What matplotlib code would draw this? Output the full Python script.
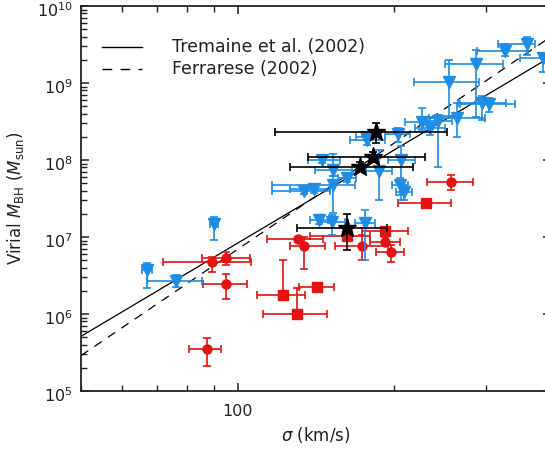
import numpy as np
import matplotlib
matplotlib.use("Agg")
import matplotlib.pyplot as plt
import matplotlib.transforms as mtransforms
from matplotlib.ticker import LogLocator, FixedLocator, FixedFormatter, NullFormatter

# ---- data: sigma (km/s) with lower/upper bounds, log10 Mbh with lower/upper bounds ----
# blue triangles
blue_sig    = [326.6, 360.1, 386.5, 287.3, 254.9, 295.0, 304.3, 264.1, 226.2, 234.3, 242.7, 203.4,
               177.3, 176.5, 145.3, 152.5, 206.1, 186.9, 162.3, 152.5, 134.1, 140.2, 205.2, 208.9,
               143.3, 151.8, 175.7, 90.0, 66.9, 76.1]
blue_sig_lo = [288.6, 316.7, 349.1, 250.4, 218.3, 265.3, 267.6, 233.3, 209.8, 219.3, 224.2, 192.0,
               164.4, 168.8, 136.5, 140.8, 194.5, 176.5, 155.9, 116.4, 116.4, 126.1, 198.0, 201.6,
               137.7, 144.0, 168.1, 88.5, 65.5, 66.9]
blue_sig_hi = [361.7, 373.1, 416.8, 323.7, 291.1, 328.1, 341.4, 298.9, 239.5, 250.4, 258.3, 214.5,
               192.0, 184.2, 157.3, 165.9, 219.3, 198.0, 168.8, 168.1, 150.5, 150.5, 212.6, 216.4,
               149.2, 160.8, 183.7, 91.6, 68.4, 85.4]
blue_logm    = [9.42, 9.51, 9.32, 9.25, 9.01, 8.74, 8.73, 8.55, 8.49, 8.42, 8.51, 8.34,
                8.26, 8.30, 8.00, 7.87, 8.00, 7.86, 7.77, 7.68, 7.60, 7.62, 7.68, 7.58,
                7.22, 7.19, 7.18, 7.17, 6.57, 6.43]
blue_logm_lo = [9.35, 9.36, 9.14, 8.56, 8.57, 8.52, 8.62, 8.30, 8.39, 8.33, 7.91, 8.23,
                8.20, 8.26, 7.96, 7.79, 7.48, 7.48, 7.71, 7.31, 7.56, 7.57, 7.55, 7.48,
                7.17, 7.03, 6.70, 6.96, 6.34, 6.35]
blue_logm_hi = [9.51, 9.60, 9.39, 9.43, 9.30, 8.83, 8.81, 8.74, 8.68, 8.56, 8.58, 8.42,
                8.34, 8.35, 8.04, 8.08, 8.18, 8.13, 7.82, 7.79, 7.64, 7.66, 7.77, 7.66,
                7.27, 7.29, 7.35, 7.26, 6.66, 6.51]

# black stars
star_sig    = [184.9, 182.3, 171.9, 162.2]
star_sig_lo = [117.9, 136.5, 126.1, 130.0]
star_sig_hi = [252.6, 229.2, 217.4, 193.7]
star_logm    = [8.37, 8.04, 7.91, 7.12]
star_logm_lo = [8.22, 7.97, 7.86, 6.83]
star_logm_hi = [8.48, 8.10, 7.97, 7.30]

# red circles
circ_sig    = [257.2, 130.6, 134.1, 173.2, 192.4, 197.1, 89.1, 95.2, 95.2, 87.2]
circ_sig_lo = [230.9, 113.7, 126.1, 153.8, 179.4, 184.9, 71.9, 85.3, 85.9, 80.7]
circ_sig_hi = [283.1, 146.1, 147.2, 194.8, 205.2, 208.9, 106.1, 105.6, 104.1, 92.9]
circ_logm    = [7.71, 6.97, 6.88, 6.88, 6.94, 6.81, 6.67, 6.73, 6.39, 5.54]
circ_logm_lo = [7.61, 6.94, 6.59, 6.70, 6.89, 6.67, 6.55, 6.64, 6.20, 5.32]
circ_logm_hi = [7.81, 7.00, 7.00, 7.03, 7.00, 6.89, 6.74, 6.81, 6.52, 5.69]

# red squares
sq_sig    = [229.9, 192.0, 162.2, 122.4, 142.1, 129.9]
sq_sig_lo = [203.5, 173.2, 137.7, 109.1, 131.4, 112.0]
sq_sig_hi = [257.2, 212.3, 180.0, 134.7, 153.2, 148.3]
sq_logm    = [7.44, 7.08, 7.01, 6.25, 6.35, 6.00]
sq_logm_lo = [7.41, 7.05, 6.98, 6.22, 6.32, 5.97]
sq_logm_hi = [7.47, 7.11, 7.04, 6.70, 6.38, 6.34]

# relations (end points)
fit_sig = [50.0, 400.0]
tremaine_logm = [5.71, 9.34]
ferrarese_logm = [5.46, 9.60]

xtick_vals = [100]
xtick_labels = ["100"]
ytick_vals = [1e5, 1e6, 1e7, 1e8, 1e9, 1e10]
ytick_labels = [r"$10^{5}$", r"$10^{6}$", r"$10^{7}$", r"$10^{8}$", r"$10^{9}$", r"$10^{10}$"]

BLUE = "#1f8ce6"
RED = "#e41212"


def eb(ax, s, slo, shi, lm, lmlo, lmhi, color, marker, ms, z):
    s = np.array(s); slo = np.array(slo); shi = np.array(shi)
    m = 10 ** np.array(lm); mlo = 10 ** np.array(lmlo); mhi = 10 ** np.array(lmhi)
    ax.errorbar(s, m, xerr=[s - slo, shi - s], yerr=[m - mlo, mhi - m],
                fmt=marker, color=color, ms=ms, mec=color, mfc=color,
                elinewidth=1.2, capsize=2.8, capthick=1.2, zorder=z)


fig = plt.figure(figsize=(5.45, 4.49), dpi=100)
ax = fig.add_axes([81 / 545, 58 / 449, 469.8 / 545, 385 / 449])
ax.set_xscale("log")
ax.set_yscale("log")
ax.set_xlim(50, 400)
ax.set_ylim(1e5, 1e10)

ax.plot(fit_sig, 10 ** np.array(tremaine_logm), color="black", lw=0.9, zorder=2)
ax.plot(fit_sig, 10 ** np.array(ferrarese_logm), color="black", lw=0.9, dashes=(7, 6), zorder=2)

eb(ax, circ_sig, circ_sig_lo, circ_sig_hi, circ_logm, circ_logm_lo, circ_logm_hi, RED, "o", 6.5, 3)
eb(ax, sq_sig, sq_sig_lo, sq_sig_hi, sq_logm, sq_logm_lo, sq_logm_hi, RED, "s", 6.5, 3)
eb(ax, blue_sig, blue_sig_lo, blue_sig_hi, blue_logm, blue_logm_lo, blue_logm_hi, BLUE, "v", 8.5, 4)
eb(ax, star_sig, star_sig_lo, star_sig_hi, star_logm, star_logm_lo, star_logm_hi, "black", "*", 14, 5)

# legend drawn by hand (no frame)
ax.plot([0.044, 0.129], [0.894, 0.894], color="black", lw=1, transform=ax.transAxes)
ax.plot([0.044, 0.129], [0.836, 0.836], color="black", lw=1, dashes=(7, 6), transform=ax.transAxes)
ax.text(0.194, 0.894, "Tremaine et al. (2002)", transform=ax.transAxes, va="center", ha="left",
        fontsize=12.5, color="#222222")
ax.text(0.194, 0.836, "Ferrarese (2002)", transform=ax.transAxes, va="center", ha="left",
        fontsize=12.5, color="#222222")

ax.xaxis.set_major_locator(FixedLocator(xtick_vals))
ax.xaxis.set_major_formatter(FixedFormatter(xtick_labels))
ax.xaxis.set_minor_locator(LogLocator(base=10, subs=np.arange(2, 10)))
ax.xaxis.set_minor_formatter(NullFormatter())
ax.yaxis.set_major_locator(FixedLocator(ytick_vals))
ax.yaxis.set_major_formatter(FixedFormatter(ytick_labels))
ax.yaxis.set_minor_locator(LogLocator(base=10, subs=np.arange(2, 10)))
ax.yaxis.set_minor_formatter(NullFormatter())

ax.tick_params(which="both", direction="in", top=True, right=True, color="#222222",
               labelsize=11.5, labelcolor="#222222")
ax.tick_params(axis="x", which="both", pad=9)
ax.tick_params(axis="y", which="both", pad=6)
ax.tick_params(which="major", length=6, width=1.1)
ax.tick_params(which="minor", length=4, width=1.0)
for sp in ax.spines.values():
    sp.set_linewidth(1.3)
    sp.set_color("#222222")

# shift y tick labels slightly downward (digits sit a little below the tick)
offset = mtransforms.ScaledTranslation(0, -3.5 / 100, fig.dpi_scale_trans)
for lab in ax.get_yticklabels():
    lab.set_transform(lab.get_transform() + offset)

ax.set_xlabel(r"$\sigma$ (km/s)", fontsize=12, color="#222222", labelpad=5)
ax.set_ylabel(r"Virial $\mathit{M}_{\rm BH}$ ($\mathit{M}_{\rm sun}$)", fontsize=12,
              color="#222222", labelpad=8)

fig.savefig("out.png", dpi=100)
